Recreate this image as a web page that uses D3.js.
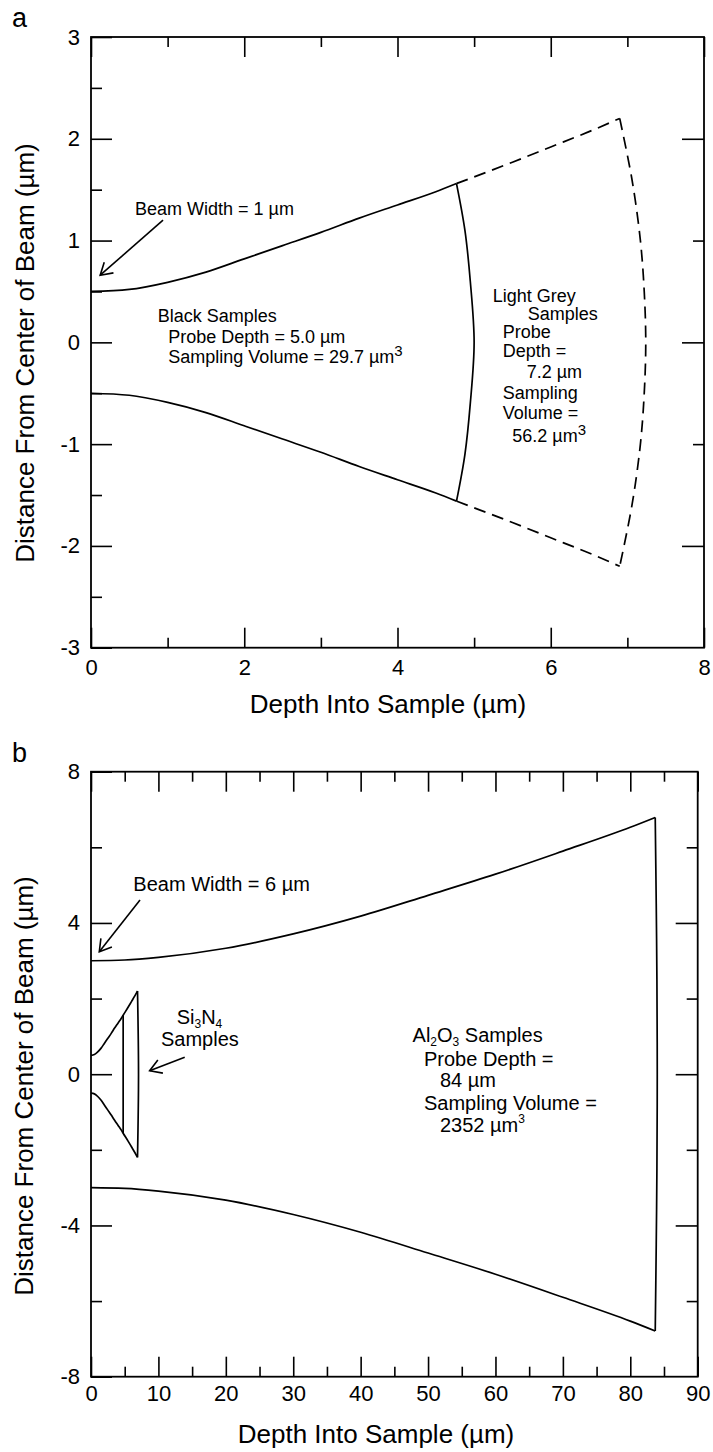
<!DOCTYPE html>
<html>
<head>
<meta charset="utf-8">
<script src="https://cdn.jsdelivr.net/npm/d3@7"></script>
<style>
  body { margin: 0; background: #fff; }
  svg text { font-family: "Liberation Sans", Arial, Helvetica, sans-serif; fill: #000; }
</style>
</head>
<body>
<svg id="fig" width="713" height="1452"></svg>
<script>
// ---- panel a data (µm) ----
const siDepth   = [0, 0.5, 1, 1.5, 2, 2.5, 3, 3.5, 4, 4.5, 4.77];
const siUpper   = [0.5, 0.52, 0.59, 0.69, 0.82, 0.95, 1.08, 1.22, 1.35, 1.48, 1.56];
const siLower   = [-0.5, -0.52, -0.59, -0.69, -0.82, -0.95, -1.08, -1.22, -1.35, -1.48, -1.56];
const extDepth  = [4.77, 5.5, 6, 6.5, 6.9];
const extUpper  = [1.56, 1.77, 1.92, 2.07, 2.2];
const extLower  = [-1.56, -1.77, -1.92, -2.07, -2.2];
const arc50Depth = [4.77, 4.88, 4.95, 5.0, 4.95, 4.88, 4.77];
const arc50Dist  = [1.56, 1.1, 0.6, 0, -0.6, -1.1, -1.56];
const arc72Depth = [6.9, 7.06, 7.17, 7.22, 7.24, 7.22, 7.17, 7.06, 6.9];
const arc72Dist  = [2.2, 1.6, 1.0, 0.5, 0, -0.5, -1.0, -1.6, -2.2];

const xTicksA = [0, 2, 4, 6, 8];
const xMinorA = [1, 3, 5, 7];
const yTicksA = [-3, -2, -1, 0, 1, 2, 3];
const yMinorA = [-2.5, -1.5, -0.5, 0.5, 1.5, 2.5];

// ---- panel b data (µm) ----
const alDepth = [0, 5, 10, 20, 30, 40, 50, 60, 70, 80, 83.7];
const alUpper = [3.0, 3.02, 3.09, 3.33, 3.71, 4.18, 4.73, 5.29, 5.9, 6.53, 6.79];
const alLower = [-3.0, -3.02, -3.09, -3.33, -3.71, -4.18, -4.73, -5.29, -5.9, -6.53, -6.79];
const arc84Depth = [83.7, 83.85, 83.95, 84.0, 83.95, 83.85, 83.7];
const arc84Dist  = [6.79, 4.5, 2.5, 0, -2.5, -4.5, -6.79];

const xTicksB = [0, 10, 20, 30, 40, 50, 60, 70, 80, 90];
const xMinorB = [5, 15, 25, 35, 45, 55, 65, 75, 85];
const yTicksB = [-8, -4, 0, 4, 8];
const yMinorB = [-6, -2, 2, 6];

// annotation text lines, anchored in data units; "_" subscript, "^" superscript
const notesA = [
  {x: 0.574, y: 1.25, t: "Beam Width = 1 µm"},
  {x: 0.87, y: 0.203, t: "Black Samples"},
  {x: 1.009, y: -0.009, t: "Probe Depth = 5.0 µm"},
  {x: 1.009, y: -0.205, t: "Sampling Volume = 29.7 µm^3"},
  {x: 5.243, y: 0.399, t: "Light Grey"},
  {x: 5.699, y: 0.22, t: "Samples"},
  {x: 5.373, y: 0.04, t: "Probe"},
  {x: 5.373, y: -0.144, t: "Depth ="},
  {x: 5.686, y: -0.353, t: "7.2 µm"},
  {x: 5.373, y: -0.554, t: "Sampling"},
  {x: 5.373, y: -0.756, t: "Volume ="},
  {x: 5.498, y: -0.976, t: "56.2 µm^3"}
];
const notesB = [
  {x: 6.28, y: 4.845, t: "Beam Width = 6 µm"},
  {x: 12.71, y: 1.33, t: "Si_3N_4"},
  {x: 10.38, y: 0.746, t: "Samples"},
  {x: 47.7, y: 0.852, t: "Al_2O_3 Samples"},
  {x: 49.4, y: 0.23, t: "Probe Depth ="},
  {x: 51.77, y: -0.338, t: "84 µm"},
  {x: 49.4, y: -0.947, t: "Sampling Volume ="},
  {x: 51.77, y: -1.529, t: "2352 µm^3"}
];
const arrowsA = [{x1: 0.94, y1: 1.2, x2: 0.12, y2: 0.66}];
const arrowsB = [
  {x1: 7.27, y1: 4.61, x2: 1.23, y2: 3.24},
  {x1: 13.9, y1: 0.45, x2: 8.7, y2: 0.09}
];

const svg = d3.select("#fig");
const FONT = "Liberation Sans, Arial, Helvetica, sans-serif";

svg.append("defs").append("marker")
  .attr("id", "arrow").attr("viewBox", "-1 -9 15 18")
  .attr("refX", 11.5).attr("refY", 0)
  .attr("markerUnits", "userSpaceOnUse")
  .attr("markerWidth", 15).attr("markerHeight", 18)
  .attr("orient", "auto")
  .append("path").attr("d", "M0,-7L11.5,0L0,7")
  .attr("fill", "none").attr("stroke", "#000").attr("stroke-width", 1.6);

function styleAxis(sel, fs) {
  sel.attr("font-family", FONT).attr("font-size", fs);
  sel.select(".domain").remove();
  sel.selectAll("line").attr("stroke", "#000").attr("stroke-width", 1.6);
  sel.selectAll("text").attr("fill", "#000");
}

function initPanel(cfg) {
  const x = d3.scaleLinear().domain(cfg.xDomain).range(cfg.xRange);
  const y = d3.scaleLinear().domain(cfg.yDomain).range(cfg.yRange);
  const g = svg.append("g");
  const [left, right] = cfg.xRange;
  const [bottom, top] = cfg.yRange;
  const fmt = d => String(d);
  const none = () => "";

  // bottom + top ticks
  g.append("g").attr("transform", `translate(0,${bottom})`)
    .call(d3.axisBottom(x).tickValues(cfg.xTicks).tickSize(-20).tickPadding(cfg.xPad).tickFormat(fmt))
    .call(s => styleAxis(s, 22));
  g.append("g").attr("transform", `translate(0,${bottom})`)
    .call(d3.axisBottom(x).tickValues(cfg.xMinor).tickSize(-10).tickFormat(none))
    .call(s => styleAxis(s, 22));
  g.append("g").attr("transform", `translate(0,${top})`)
    .call(d3.axisTop(x).tickValues(cfg.xTicks).tickSize(-20).tickFormat(none))
    .call(s => styleAxis(s, 22));
  g.append("g").attr("transform", `translate(0,${top})`)
    .call(d3.axisTop(x).tickValues(cfg.xMinor).tickSize(-10).tickFormat(none))
    .call(s => styleAxis(s, 22));

  // left + right ticks
  g.append("g").attr("transform", `translate(${left},0)`)
    .call(d3.axisLeft(y).tickValues(cfg.yTicks).tickSize(-21).tickPadding(11).tickFormat(fmt))
    .call(s => styleAxis(s, 22));
  g.append("g").attr("transform", `translate(${left},0)`)
    .call(d3.axisLeft(y).tickValues(cfg.yMinor).tickSize(-11).tickFormat(none))
    .call(s => styleAxis(s, 22));
  g.append("g").attr("transform", `translate(${right},0)`)
    .call(d3.axisRight(y).tickValues(cfg.rMajor).tickSize(-22).tickFormat(none))
    .call(s => styleAxis(s, 22));
  g.append("g").attr("transform", `translate(${right},0)`)
    .call(d3.axisRight(y).tickValues(cfg.rMinor).tickSize(-11).tickFormat(none))
    .call(s => styleAxis(s, 22));

  g.append("rect")
    .attr("x", left).attr("y", top)
    .attr("width", right - left).attr("height", bottom - top)
    .attr("fill", "none").attr("stroke", "#000").attr("stroke-width", 1.8);

  // curves
  const edge = d3.line().x(d => x(d[0])).y(d => y(d[1])).curve(d3.curveMonotoneX);
  const arc = d3.line().x(d => x(d[0])).y(d => y(d[1])).curve(d3.curveCatmullRom);
  cfg.curves.forEach(c => {
    g.append("path")
      .datum(d3.zip(c.depth, c.dist))
      .attr("fill", "none").attr("stroke", "#000").attr("stroke-width", 1.7)
      .attr("stroke-dasharray", c.dashed ? "12,7" : null)
      .attr("stroke-linejoin", "round")
      .attr("d", c.arc ? arc : edge);
  });

  cfg.arrows.forEach(a => {
    g.append("line")
      .attr("x1", x(a.x1)).attr("y1", y(a.y1)).attr("x2", x(a.x2)).attr("y2", y(a.y2))
      .attr("stroke", "#000").attr("stroke-width", 1.6)
      .attr("marker-end", "url(#arrow)");
  });

  cfg.notes.forEach(n => {
    const txt = g.append("text").attr("x", x(n.x)).attr("y", y(n.y)).attr("font-size", cfg.noteSize);
    let shift = 0;
    n.t.split(/([_^]\d)/).filter(s => s.length).forEach(part => {
      if (part[0] === "_" || part[0] === "^") {
        const dy = part[0] === "_" ? cfg.subDy : cfg.supDy;
        txt.append("tspan").attr("dy", dy - shift)
          .attr("font-size", part[0] === "_" ? cfg.subSize : cfg.supSize).text(part.slice(1));
        shift = dy;
      } else {
        txt.append("tspan").attr("dy", -shift).text(part);
        shift = 0;
      }
    });
  });

  // titles
  svg.append("text").attr("x", cfg.xTitle[0]).attr("y", cfg.xTitle[1])
    .attr("text-anchor", "middle").attr("font-size", 26)
    .text("Depth Into Sample (µm)");
  svg.append("text")
    .attr("transform", `translate(${cfg.yTitle[0]},${cfg.yTitle[1]}) rotate(-90)`)
    .attr("text-anchor", "middle").attr("font-size", 26)
    .text("Distance From Center of Beam (µm)");
  svg.append("text").attr("x", 12).attr("y", cfg.letterY)
    .attr("font-size", 27).text(cfg.letter);
}

initPanel({
  letter: "a", letterY: 27,
  xDomain: [0, 8], xRange: [91, 704],
  yDomain: [-3, 3], yRange: [647.7, 37],
  xTicks: xTicksA, xMinor: xMinorA, yTicks: yTicksA, yMinor: yMinorA,
  rMajor: [-2, 0, 2], rMinor: [-1, 1],
  xPad: 12,
  xTitle: [388, 713], yTitle: [33.5, 353],
  noteSize: 18, subSize: 12, subDy: 4, supSize: 15, supDy: -7,
  curves: [
    {depth: siDepth, dist: siUpper},
    {depth: siDepth, dist: siLower},
    {depth: extDepth, dist: extUpper, dashed: true},
    {depth: extDepth, dist: extLower, dashed: true},
    {depth: arc50Depth, dist: arc50Dist, arc: true},
    {depth: arc72Depth, dist: arc72Dist, arc: true, dashed: true}
  ],
  arrows: arrowsA, notes: notesA
});

initPanel({
  letter: "b", letterY: 762,
  xDomain: [0, 90], xRange: [91, 697.7],
  yDomain: [-8, 8], yRange: [1376.7, 771.7],
  xTicks: xTicksB, xMinor: xMinorB, yTicks: yTicksB, yMinor: yMinorB,
  rMajor: [-4, 0, 4], rMinor: [-6, -2, 2, 6],
  xPad: 9,
  xTitle: [376, 1443], yTitle: [33, 1086],
  noteSize: 20, subSize: 12, subDy: 4, supSize: 12, supDy: -9,
  curves: [
    {depth: alDepth, dist: alUpper},
    {depth: alDepth, dist: alLower},
    {depth: arc84Depth, dist: arc84Dist, arc: true},
    {depth: siDepth.concat(extDepth.slice(1)), dist: siUpper.concat(extUpper.slice(1))},
    {depth: siDepth.concat(extDepth.slice(1)), dist: siLower.concat(extLower.slice(1))},
    {depth: [siDepth[siDepth.length - 1], siDepth[siDepth.length - 1]], dist: [siUpper[siUpper.length - 1], siLower[siLower.length - 1]], arc: true},
    {depth: [extDepth[extDepth.length - 1], 7.05, extDepth[extDepth.length - 1]], dist: [extUpper[extUpper.length - 1], 0, extLower[extLower.length - 1]], arc: true}
  ],
  arrows: arrowsB, notes: notesB
});
</script>
</body>
</html>
